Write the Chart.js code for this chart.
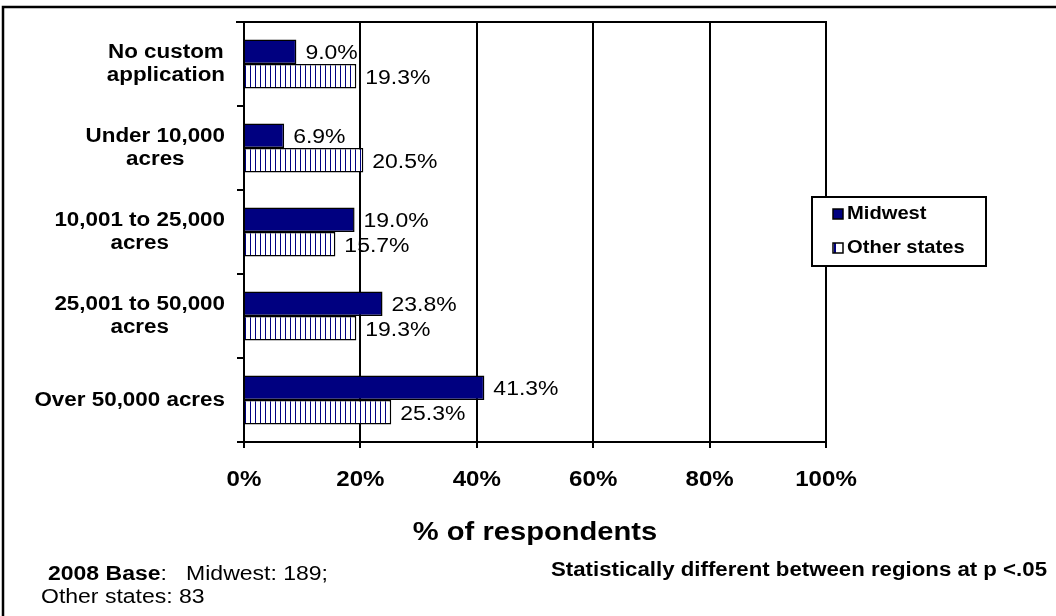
<!DOCTYPE html>
<html>
<head>
<meta charset="utf-8">
<script src="https://cdn.jsdelivr.net/npm/chart.js@4/dist/chart.umd.min.js"></script>
<style>
  html, body { margin: 0; padding: 0; background: #ffffff; }
  canvas { display: block; }
</style>
</head>
<body>
<canvas id="c" width="1056" height="616" style="width:1056px;height:616px"></canvas>
<script>
// ---- data ----
const categories = [
  ["No custom", "application"],
  ["Under 10,000", "acres"],
  ["10,001 to 25,000", "acres"],
  ["25,001 to 50,000", "acres"],
  ["Over 50,000 acres"]
];
const seriesNames = ["Midwest", "Other states"];
const midwest = [9.0, 6.9, 19.0, 23.8, 41.3];
const otherStates = [19.3, 20.5, 15.7, 19.3, 25.3];
const xTicks = [0, 20, 40, 60, 80, 100];
const axisTitle = "% of respondents";
const noteBold = "2008 Base";
const noteRest1 = ":   Midwest: 189;";
const noteLine2 = "Other states: 83";
const noteRight = "Statistically different between regions at p <.05";

const NAVY = "#000080";
const FONT = "Arial, 'Liberation Sans', Helvetica, sans-serif";
const SX = 1.12; // horizontal text stretch seen in the reference

function stripePattern() {
  const p = document.createElement("canvas");
  p.width = 5; p.height = 4;
  const g = p.getContext("2d");
  g.fillStyle = "#ffffff";
  g.fillRect(0, 0, 5, 4);
  g.fillStyle = NAVY;
  g.fillRect(0, 0, 1, 4);
  return g.createPattern(p, "repeat");
}
const pattern = stripePattern();

function txt(ctx, s, x, y, align, font, sx) {
  ctx.save();
  ctx.font = font;
  ctx.textBaseline = "middle";
  ctx.textAlign = align;
  ctx.translate(x, y);
  ctx.scale(sx || SX, 1);
  ctx.fillText(s, 0, 0);
  ctx.restore();
}
function tw(ctx, s, font, sx) {
  ctx.save(); ctx.font = font;
  const w = ctx.measureText(s).width * (sx || SX);
  ctx.restore();
  return w;
}

const decorPlugin = {
  id: "decor",
  afterDatasetsDraw(chart) {
    const ctx = chart.ctx;
    const area = chart.chartArea;
    ctx.save();
    ctx.strokeStyle = "#000";
    ctx.lineWidth = 2;
    ctx.beginPath();
    ctx.moveTo(area.left - 8, area.top);
    ctx.lineTo(area.right + 1, area.top);
    ctx.stroke();
    ctx.fillStyle = "#000";
    // value labels
    const vf = "20.5px " + FONT;
    chart.data.datasets.forEach((ds, di) => {
      const meta = chart.getDatasetMeta(di);
      meta.data.forEach((bar, i) => {
        txt(ctx, ds.data[i].toFixed(1) + "%", bar.x + 9, bar.y + 2, "left", vf);
      });
    });
    // category labels
    const ys = chart.scales.y;
    const cf = "bold 20px " + FONT;
    const lh = 23;
    chart.data.labels.forEach((lab, i) => {
      const lines = Array.isArray(lab) ? lab : [lab];
      const cy = ys.getPixelForValue(i);
      let maxW = 0;
      lines.forEach(l => { maxW = Math.max(maxW, tw(ctx, l, cf)); });
      const cx = 225 - maxW / 2;
      lines.forEach((l, k) => {
        txt(ctx, l, cx, cy + (k - (lines.length - 1) / 2) * lh, "center", cf);
      });
    });
    // x tick labels
    const xs = chart.scales.x;
    xTicks.forEach(v => {
      txt(ctx, v + "%", xs.getPixelForValue(v), 480, "center", "bold 21.5px " + FONT);
    });
    // x title
    txt(ctx, axisTitle, (area.left + area.right) / 2, 533, "center", "bold 26px " + FONT);
    ctx.restore();
  },
  afterDraw(chart) {
    const ctx = chart.ctx;
    ctx.save();
    ctx.strokeStyle = "#000";
    ctx.lineWidth = 2.5;
    ctx.beginPath();
    ctx.moveTo(3, 620);
    ctx.lineTo(3, 7);
    ctx.lineTo(1060, 7);
    ctx.stroke();
    // legend
    const bx = 812, by = 197, bw = 174, bh = 69;
    ctx.fillStyle = "#fff";
    ctx.fillRect(bx, by, bw, bh);
    ctx.lineWidth = 2;
    ctx.strokeRect(bx, by, bw, bh);
    const rows = [214, 248];
    chart.data.datasets.forEach((ds, i) => {
      const y = rows[i];
      ctx.fillStyle = i === 0 ? NAVY : "#fff";
      ctx.fillRect(833, y - 5, 10, 10);
      if (i === 1) { ctx.fillStyle = NAVY; ctx.fillRect(834, y - 5, 2, 10); }
      ctx.lineWidth = 1.5;
      ctx.strokeStyle = "#000";
      ctx.strokeRect(833, y - 5, 10, 10);
      ctx.fillStyle = "#000";
      txt(ctx, ds.label, 847, y, "left", "bold 18px " + FONT);
    });
    // footnotes
    ctx.fillStyle = "#000";
    const fsx = 1.15;
    const bf = "bold 20px " + FONT, rf = "20px " + FONT;
    txt(ctx, noteBold, 48, 574, "left", bf, fsx);
    txt(ctx, noteRest1, 48 + tw(ctx, noteBold, bf, fsx), 574, "left", rf, fsx);
    txt(ctx, noteLine2, 41, 597, "left", rf, fsx);
    txt(ctx, noteRight, 1047, 571, "right", "bold 19.5px " + FONT, 1.14);
    ctx.restore();
  }
};

new Chart(document.getElementById("c"), {
  type: "bar",
  data: {
    labels: categories,
    datasets: [
      { label: seriesNames[0], data: midwest, backgroundColor: NAVY, borderColor: "#000", borderWidth: 1.5 },
      { label: seriesNames[1], data: otherStates, backgroundColor: pattern, borderColor: "#000", borderWidth: 1.5 }
    ]
  },
  options: {
    indexAxis: "y",
    responsive: false,
    animation: false,
    devicePixelRatio: 1,
    categoryPercentage: 0.585,
    barPercentage: 1.0,
    layout: { padding: { left: 0, top: 22, right: 230, bottom: 0 } },
    plugins: { legend: { display: false }, tooltip: { enabled: false } },
    scales: {
      x: {
        min: 0, max: 100,
        afterBuildTicks: (s) => { s.ticks = xTicks.map(v => ({ value: v })); },
        afterFit: (s) => { s.height = 174; },
        ticks: { display: false },
        grid: { color: "#000", lineWidth: 2, tickLength: 6 },
        border: { color: "#000", width: 2 }
      },
      y: {
        afterFit: (s) => { s.width = 244; },
        ticks: { display: false },
        grid: { offset: true, drawOnChartArea: false, color: "#000", lineWidth: 2, tickLength: 7 },
        border: { color: "#000", width: 2 }
      }
    }
  },
  plugins: [decorPlugin]
});
</script>
</body>
</html>
